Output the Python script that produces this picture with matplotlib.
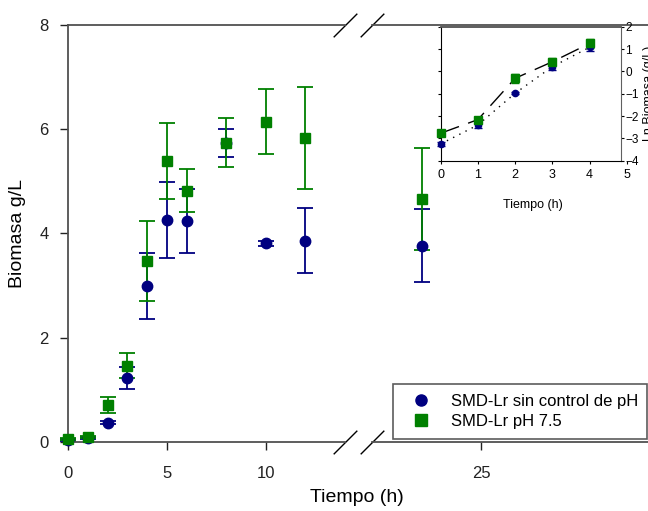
import numpy as np
import matplotlib
matplotlib.use('Agg')
import matplotlib.pyplot as plt
from matplotlib.lines import Line2D

plt.rcParams['font.family'] = ['Liberation Sans', 'DejaVu Sans']

# datos: biomasa (g/L) vs tiempo (h)
tiempo = np.array([0, 1, 2, 3, 4, 5, 6, 8, 10, 12, 22])
sin_ph = np.array([0.04, 0.08, 0.37, 1.22, 2.99, 4.26, 4.24, 5.73, 3.81, 3.86, 3.76])
sin_ph_err = np.array([0.02, 0.02, 0.03, 0.21, 0.63, 0.73, 0.61, 0.27, 0.05, 0.62, 0.70])
ph75 = np.array([0.05, 0.10, 0.71, 1.46, 3.47, 5.38, 4.82, 5.74, 6.14, 5.83, 4.66])
ph75_err = np.array([0.02, 0.02, 0.16, 0.24, 0.77, 0.73, 0.41, 0.47, 0.62, 0.98, 0.98])

# inserto: Ln biomasa, fase exponencial
t_ln = np.array([0, 1, 2, 3, 4])
ln_sin_ph = np.array([-3.25, -2.40, -0.98, 0.21, 1.08])
ln_sin_ph_err = np.array([0.10, 0.15, 0.05, 0.15, 0.15])
ln_ph75 = np.array([-2.77, -2.16, -0.31, 0.43, 1.25])
ln_ph75_err = np.array([0.05, 0.10, 0.20, 0.15, 0.20])

azul = '#000080'
verde = '#008000'
gris = '#505050'

W, H = 648, 511
fig = plt.figure(figsize=(W / 100, H / 100), dpi=100)

y0, y1 = 442, 24.7
ax1 = fig.add_axes([68 / W, 1 - y0 / H, 277 / W, (y0 - y1) / H])
ax2 = fig.add_axes([372 / W, 1 - y0 / H, 276 / W, (y0 - y1) / H])
ax1.set_xlim(0, 14)
ax2.set_xlim(19.5, 33.4)

for ax, m in ((ax1, tiempo <= 14), (ax2, tiempo > 14)):
    ax.errorbar(tiempo[m], sin_ph[m], yerr=sin_ph_err[m], fmt='none', ecolor=azul,
                elinewidth=1.3, capsize=6, capthick=1.3, clip_on=False)
    ax.errorbar(tiempo[m], ph75[m], yerr=ph75_err[m], fmt='none', ecolor=verde,
                elinewidth=1.3, capsize=6, capthick=1.3, clip_on=False)
    ax.plot(tiempo[m], sin_ph[m], 'o', color=azul, ms=7.5, clip_on=False, zorder=4)
    ax.plot(tiempo[m], ph75[m], 's', color=verde, ms=7.5, clip_on=False, zorder=5)
    ax.set_ylim(0, 8)
    for s in ax.spines.values():
        s.set_color(gris)
        s.set_linewidth(1.3)
    ax.spines['right'].set_visible(False)
    ax.tick_params(direction='out', length=6, width=1, colors='#222222',
                   labelsize=12, pad=8)
    ax.tick_params(axis='x', pad=11)

ax1.set_xticks([0, 5, 10])
ax1.set_yticks([0, 2, 4, 6, 8])
ax2.set_xticks([25])
ax2.set_yticks([])
ax2.spines['left'].set_visible(False)

# marcas de corte del eje
kw = dict(marker=[(-1, -1), (1, 1)], markersize=17, linestyle='none',
          color='black', mew=1, clip_on=False)
ax1.plot([1, 1], [0, 1], transform=ax1.transAxes, **kw)
ax2.plot([0, 0], [0, 1], transform=ax2.transAxes, **kw)

fig.text(18 / W, 1 - 233 / H, 'Biomasa g/L', rotation=90, ha='center', va='center', fontsize=14)
fig.text(357 / W, 1 - 497 / H, 'Tiempo (h)', ha='center', va='center', fontsize=14)

handles = [Line2D([], [], ls='none', marker='o', color=azul, ms=8),
           Line2D([], [], ls='none', marker='s', color=verde, ms=8)]
leg = fig.legend(handles, ['SMD-Lr sin control de pH', 'SMD-Lr pH 7.5'],
                 loc='lower left', bbox_to_anchor=(393 / W, 1 - 439 / H, 254 / W, 61 / H),
                 bbox_transform=fig.transFigure, mode='expand', fontsize=12,
                 fancybox=False, borderpad=0.6, labelspacing=0.3,
                 handlelength=2.2, handletextpad=0.7, borderaxespad=0)
leg.get_frame().set_edgecolor('#333333')
leg.get_frame().set_linewidth(1.2)

# inserto
ins = fig.add_axes([440.7 / W, 1 - 160.7 / H, (626.8 - 440.7) / W, 134 / H])
ins.set_zorder(6)
ins.set_xlim(0, 5)
ins.set_ylim(-4, 2)
ins.errorbar(t_ln, ln_sin_ph, yerr=ln_sin_ph_err, fmt='none', ecolor=azul,
             elinewidth=1, capsize=3, clip_on=False)
ins.errorbar(t_ln, ln_ph75, yerr=ln_ph75_err, fmt='none', ecolor=verde,
             elinewidth=1, capsize=3, clip_on=False)
ins.plot(t_ln, ln_sin_ph, color='black', lw=1, ls=(0, (1, 4)))
ins.plot(t_ln, ln_ph75, color='black', lw=1, ls=(0, (14, 7)))
ins.plot(t_ln, ln_sin_ph, 'o', color=azul, ms=4.5, clip_on=False, zorder=4)
ins.plot(t_ln, ln_ph75, 's', color=verde, ms=5.5, clip_on=False, zorder=5)
ins.spines['right'].set_position(('data', 4.85))
ins.spines['right'].set_color('#606060')
ins.spines['bottom'].set_bounds(0, 4.85)
ins.spines['top'].set_bounds(0, 4.85)
ins.spines['top'].set_color(gris)
ins.spines['top'].set_linewidth(1.3)
ins.set_xticks([0, 1, 2, 3, 4, 5])
ins.set_yticks([-4, -3, -2, -1, 0, 1, 2])
ins.tick_params(axis='y', left=True, labelleft=False, right=True, labelright=True,
                direction='out', length=2, labelsize=8.5, pad=1)
ins.tick_params(axis='x', direction='out', length=2, labelsize=9, pad=4)
fig.text(533 / W, 1 - 205 / H, 'Tiempo (h)', ha='center', va='center', fontsize=9)
fig.text(643 / W, 1 - 93 / H, 'Ln Biomasa (g/L)', rotation=90, ha='left', va='center', fontsize=9)

fig.savefig('out.png', dpi=100)
